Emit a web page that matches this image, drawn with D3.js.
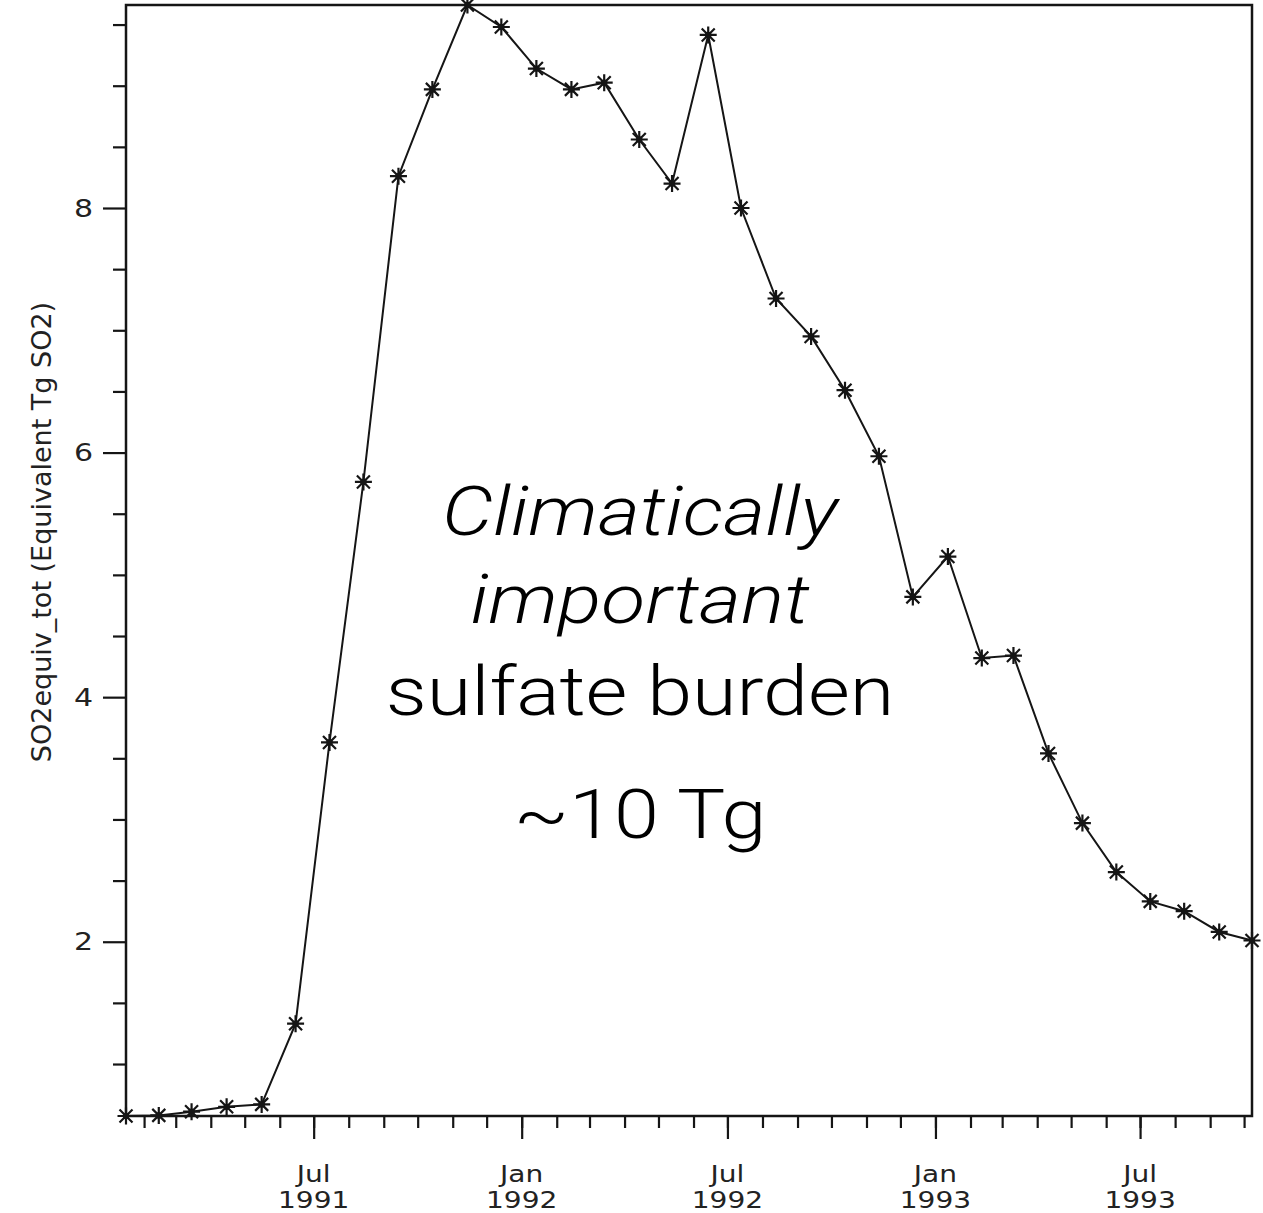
<!DOCTYPE html>
<html>
<head>
<meta charset="utf-8">
<script src="https://cdn.jsdelivr.net/npm/d3@7"></script>
<style>
  html, body { margin: 0; padding: 0; background: #fff; }
  svg { display: block; }
</style>
</head>
<body>
<svg id="chart" width="1263" height="1213"></svg>
<script>
// ---- data ----
const dates = [
  "1991-01-16","1991-02-14","1991-03-15","1991-04-15","1991-05-16","1991-06-15",
  "1991-07-15","1991-08-14","1991-09-14","1991-10-14","1991-11-14","1991-12-14",
  "1992-01-14","1992-02-14","1992-03-14","1992-04-14","1992-05-13","1992-06-14",
  "1992-07-13","1992-08-13","1992-09-13","1992-10-13","1992-11-12","1992-12-12",
  "1993-01-12","1993-02-11","1993-03-11","1993-04-11","1993-05-11","1993-06-10",
  "1993-07-10","1993-08-09","1993-09-09","1993-10-08"
];
const values = [
  0.575, 0.58, 0.61, 0.65, 0.67, 1.33,
  3.63, 5.76, 8.26, 8.97, 9.66, 9.48,
  9.14, 8.97, 9.025, 8.56, 8.20, 9.415,
  8.00, 7.26, 6.95, 6.51, 5.97, 4.82,
  5.15, 4.32, 4.34, 3.54, 2.97, 2.57,
  2.33, 2.25, 2.08, 2.01
];
const xMajorTickDates = ["1991-07-01","1992-01-01","1992-07-01","1993-01-01","1993-07-01"];
const xTickMonthLabels = ["Jul","Jan","Jul","Jan","Jul"];
const xTickYearLabels = ["1991","1992","1992","1993","1993"];
const yMajorTicks = [2, 4, 6, 8];
const yMinorTicks = [1, 1.5, 2.5, 3, 3.5, 4.5, 5, 5.5, 6.5, 7, 7.5, 8.5, 9, 9.5];
const yAxisTitle = "SO2equiv_tot (Equivalent Tg SO2)";
const annotationLines = [
  {text: "Climatically", italic: true},
  {text: "important", italic: true},
  {text: "sulfate burden", italic: false},
  {text: "~10 Tg", italic: false}
];

// ---- layout ----
const plotL = 126, plotR = 1252, plotT = 5, plotB = 1116;
const parse = d3.utcParse("%Y-%m-%d");
const data = dates.map((d, i) => ({date: parse(d), value: values[i]}));

const x = d3.scaleUtc()
  .domain(d3.extent(data, d => d.date))
  .range([plotL, plotR]);
const y = d3.scaleLinear()
  .domain(d3.extent(values))
  .range([plotB, plotT]);

const svg = d3.select("#chart");
const ink = "#151515";
const tickFont = "'DejaVu Sans', sans-serif";

// minor x ticks (monthly)
const monthTicks = d3.utcMonth.range(x.domain()[0], x.domain()[1]);
svg.append("g")
  .attr("transform", `translate(0,${plotB})`)
  .call(d3.axisBottom(x).tickValues(monthTicks).tickSize(12).tickFormat(""))
  .call(g => g.select(".domain").remove())
  .call(g => g.selectAll("line").attr("stroke", ink).attr("stroke-width", 2.2));

// major x ticks
const majorDates = xMajorTickDates.map(parse);
svg.append("g")
  .attr("transform", `translate(0,${plotB})`)
  .call(d3.axisBottom(x).tickValues(majorDates).tickSize(23).tickFormat(""))
  .call(g => g.select(".domain").remove())
  .call(g => g.selectAll("line").attr("stroke", ink).attr("stroke-width", 2.2));

// x tick labels (two lines, wide like the reference's bitmap font)
const xl = svg.append("g").attr("font-family", tickFont).attr("font-size", 23)
  .attr("fill", "#222").attr("text-anchor", "middle");
majorDates.forEach((d, i) => {
  xl.append("text").attr("transform", `translate(${x(d)},1182) scale(1.22,1)`).text(xTickMonthLabels[i]);
  xl.append("text").attr("transform", `translate(${x(d)},1208) scale(1.22,1)`).text(xTickYearLabels[i]);
});

// y minor ticks
svg.append("g")
  .attr("transform", `translate(${plotL},0)`)
  .call(d3.axisLeft(y).tickValues(yMinorTicks).tickSize(13).tickFormat(""))
  .call(g => g.select(".domain").remove())
  .call(g => g.selectAll("line").attr("stroke", ink).attr("stroke-width", 2.2));

// y major ticks with labels
svg.append("g")
  .attr("transform", `translate(${plotL},0)`)
  .call(d3.axisLeft(y).tickValues(yMajorTicks).tickSize(23).tickPadding(10).tickFormat(d3.format("d")))
  .call(g => g.select(".domain").remove())
  .call(g => g.selectAll("line").attr("stroke", ink).attr("stroke-width", 2.2))
  .call(g => g.selectAll("text")
    .attr("font-family", tickFont).attr("font-size", 25).attr("fill", "#222")
    .attr("x", -33 / 1.2).attr("transform", "scale(1.2,1)"));

// y axis title
svg.append("text")
  .attr("transform", `translate(51,532) rotate(-90)`)
  .attr("text-anchor", "middle")
  .attr("font-family", tickFont)
  .attr("font-size", 27)
  .attr("fill", "#222")
  .text(yAxisTitle);

// frame
svg.append("rect")
  .attr("x", plotL).attr("y", plotT)
  .attr("width", plotR - plotL).attr("height", plotB - plotT)
  .attr("fill", "none").attr("stroke", ink).attr("stroke-width", 2.5);

// line
const line = d3.line().x(d => x(d.date)).y(d => y(d.value));
svg.append("path")
  .datum(data)
  .attr("d", line)
  .attr("fill", "none")
  .attr("stroke", ink)
  .attr("stroke-width", 2);

// asterisk markers
const r = 8.5, rd = 6.5;
const star = `M0,${-r}L0,${r}M${-r},0L${r},0M${-rd},${-rd}L${rd},${rd}M${-rd},${rd}L${rd},${-rd}`;
svg.append("g").selectAll("path")
  .data(data)
  .join("path")
  .attr("transform", d => `translate(${x(d.date)},${y(d.value)})`)
  .attr("d", star)
  .attr("stroke", ink)
  .attr("stroke-width", 2.2)
  .attr("fill", "none");
svg.append("g").selectAll("circle")
  .data(data)
  .join("circle")
  .attr("cx", d => x(d.date)).attr("cy", d => y(d.value))
  .attr("r", 3.2).attr("fill", ink);

// annotation (horizontally stretched like the reference)
const ann = svg.append("text")
  .attr("transform", "translate(640,0) scale(1.19,1)")
  .attr("text-anchor", "middle")
  .attr("font-family", "Roboto, 'Helvetica Neue', Arial, sans-serif")
  .attr("font-weight", 300)
  .attr("font-size", 68)
  .attr("fill", "#000");
const baselines = [535, 623, 715, 838];
annotationLines.forEach((l, i) => {
  ann.append("tspan")
    .attr("x", 0).attr("y", baselines[i])
    .attr("font-style", l.italic ? "italic" : "normal")
    .text(l.text);
});
</script>
</body>
</html>
